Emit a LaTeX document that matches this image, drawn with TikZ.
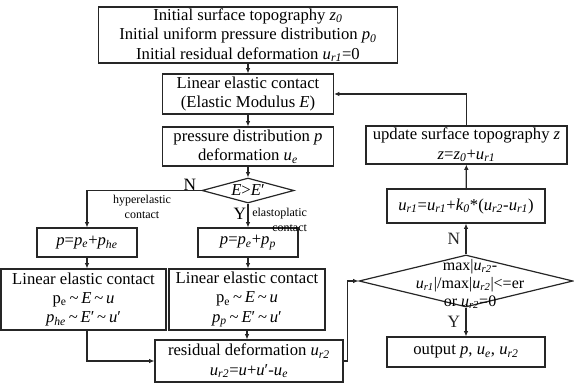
\documentclass[tikz,border=0pt]{standalone}
\usepackage{fontspec}
\setmainfont{Liberation Serif}
\usetikzlibrary{shapes.geometric,arrows.meta}

% italic symbol with italic subscript
\newcommand{\iv}[2]{\textit{#1}\textsubscript{\textit{#2}}}
\newcommand{\tl}{\,\textasciitilde\,}

\begin{document}
\begin{tikzpicture}[x=0.75pt, y=-0.75pt,
    sz/.style 2 args={minimum width=#1*0.75pt, minimum height=#2*0.75pt},
    box/.style={draw=black!85, line width=0.9pt, align=center, inner sep=0pt,
        font=\fontsize{12.5}{14.6}\selectfont},
    cond/.style={draw=black!85, line width=0.9pt, diamond, aspect=3, inner sep=0pt,
        font=\fontsize{12.5}{14.6}\selectfont},
    flow/.style={-{Latex[length=4pt,width=3.5pt]}, line width=0.9pt, black!85},
    small/.style={font=\fontsize{9}{11.5}\selectfont, align=center},
    yn/.style={font=\fontsize{13}{14}\selectfont, inner sep=1pt}]
    \useasboundingbox (0,0) rectangle (574,385);

    % Main column
    \node[box, sz={299}{56}] (init) at (248,35)
        {Initial surface topography \iv{z}{0}\\Initial uniform pressure distribution \iv{p}{0}\\Initial residual deformation \iv{u}{r1}=0};
    \node[box, sz={171}{40}] (lin) at (248,94) {Linear elastic contact\\(Elastic Modulus \textit{E})};
    \node[box, sz={171}{39}] (press) at (248,146.5) {pressure distribution \textit{p}\\deformation \iv{u}{e}};
    \node[cond, sz={92}{25}] (cmp) at (248,190.5) {\textit{E}>\textit{E}′};

    % Two branches
    \node[box, sz={100}{29}] (phe) at (87,242.5) {\textit{p}=\iv{p}{e}+\iv{p}{he}};
    \node[box, sz={100}{29}] (pp) at (248,242.5) {\textit{p}=\iv{p}{e}+\iv{p}{p}};
    \node[box, sz={165}{61}] (linhe) at (83.5,299.5)
        {Linear elastic contact\\p\textsubscript{e}\tl\textit{E}\tl\textit{u}\\\iv{p}{he}\tl\textit{E}′\tl\textit{u}′};
    \node[box, sz={156}{61}] (linp) at (247,299.5)
        {Linear elastic contact\\p\textsubscript{e}\tl\textit{E}\tl\textit{u}\\\iv{p}{p}\tl\textit{E}′\tl\textit{u}′};
    \node[box, sz={188}{42}] (resid) at (249,361)
        {residual deformation \iv{u}{r2}\\\iv{u}{r2}=\textit{u}+\textit{u}′-\iv{u}{e}};

    % Right column
    \node[box, sz={201}{38}] (upd) at (466.5,145) {update surface topography \textit{z}\\\textit{z}=\iv{z}{0}+\iv{u}{r1}};
    \node[box, sz={158}{34}] (relax) at (466,206) {\iv{u}{r1}=\iv{u}{r1}+\iv{k}{0}*(\iv{u}{r2}-\iv{u}{r1})};
    \node[cond, sz={214}{52}] (conv) at (466,281) {};
    \node[align=center, inner sep=0pt, font=\fontsize{12}{13.5}\selectfont] (convtxt) at (470,284)
        {max|\iv{u}{r2}-\\\iv{u}{r1}|/max|\iv{u}{r2}|<=er\\or \iv{u}{r2}=0};
    \node[box, sz={158}{30}] (out) at (466,352) {output \textit{p}, \iv{u}{e}, \iv{u}{r2}};

    % Labels
    \node[yn] (cmpN) at (190,185) {N};
    \node[yn] (cmpY) at (240,214) {Y};
    \node[small] (hyper) at (142,207) {hyperelastic\\contact};
    \node[small, align=right, anchor=west, inner sep=0pt] (elpl) at (252,220) {elastoplatic\\contact};

    % Connectors
    \draw[flow] (init) -- (lin);
    \draw[flow] (lin) -- (press);
    \draw[flow] (press) -- (cmp);
    \draw[flow] (cmp.west) -| (phe.north);
    \draw[flow] (cmp) -- (pp);
    \draw[flow] (phe) -- (phe |- linhe.north);
    \draw[flow] (pp.south) -- (pp.south |- linp.north);
    \draw[flow] (linhe.south -| phe) |- (resid.west);
    \draw[flow] (linp.south) -- (linp.south |- resid.north);
    \draw[flow] (resid.east) -- ++(4,0) |- (conv.west);
    \draw[flow] (conv) -- node[yn, left=3pt] (convN) {N} (relax);
    \draw[flow] (relax) -- (upd);
    \draw[flow] (upd.north) |- (lin.east);
    \draw[flow] (conv) -- node[yn, left=3pt] (convY) {Y} (out);

\end{tikzpicture}
\end{document}
